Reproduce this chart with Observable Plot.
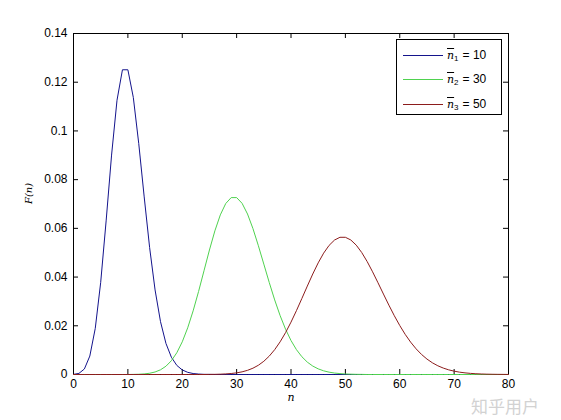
<!DOCTYPE html>
<html>
<head>
<meta charset="utf-8">
<script src="https://cdn.jsdelivr.net/npm/d3@7"></script>
<script src="https://cdn.jsdelivr.net/npm/@observablehq/plot@0.6"></script>
<style>
  html, body { margin: 0; padding: 0; background: #fff; }
  #wrap { position: relative; width: 561px; height: 420px; font-family: "Liberation Sans", Arial, sans-serif; }
  #legend { position: absolute; left: 396px; top: 39px; width: 106px; height: 76px; border: 1px solid #000; background: #fff; box-sizing: border-box; }
  .row { position: absolute; left: 0; height: 16px; display: flex; align-items: center; font-size: 12px; color: #000; }
  .sw { width: 40px; height: 0; border-top: 1px solid; margin-left: 6px; margin-right: 4px; }
  .nb { font-family: "DejaVu Serif", serif; font-style: italic; text-decoration: overline; font-size: 11px; }
  .sub { font-size: 8px; position: relative; top: 3px; margin-right: 4px; }
  #wm { position: absolute; left: 471px; top: 393px; font-family: "Noto Sans CJK SC", sans-serif; font-size: 17px; color: #d2d2d2; letter-spacing: 0px; }
</style>
</head>
<body>
<div id="wrap"></div>
<script>
const n = d3.range(0, 81);
const p1 = [0.00005,0.00045,0.00227,0.00757,0.01892,0.03783,0.06306,0.09008,0.11260,0.12511,
  0.12511,0.11374,0.09478,0.07291,0.05208,0.03472,0.02170,0.01276,0.00709,0.00373,
  0.00187,0.00089,0.00040,0.00018,0.00007,0.00003,0,0,0,0,
  0,0,0,0,0,0,0,0,0,0, 0,0,0,0,0,0,0,0,0,0, 0,0,0,0,0,0,0,0,0,0,
  0,0,0,0,0,0,0,0,0,0, 0,0,0,0,0,0,0,0,0,0, 0];
const p2 = [0,0,0,0,0,0,0,0,0,0,
  0,0.00004,0.00010,0.00024,0.00051,0.00103,0.00193,0.00340,0.00566,0.00894,
  0.01341,0.01916,0.02613,0.03408,0.04260,0.05111,0.05898,0.06553,0.07021,0.07263,
  0.07263,0.07029,0.06590,0.05991,0.05286,0.04531,0.03776,0.03061,0.02417,0.01859,
  0.01394,0.01020,0.00729,0.00508,0.00347,0.00231,0.00151,0.00096,0.00060,0.00037,
  0.00022,0.00013,0.00007,0.00004,0,0,0,0,0,0,
  0,0,0,0,0,0,0,0,0,0, 0,0,0,0,0,0,0,0,0,0, 0];
const p3 = [0,0,0,0,0,0,0,0,0,0, 0,0,0,0,0,0,0,0,0,0,
  0,0,0,0,0,0.00004,0.00007,0.00013,0.00024,0.00041,
  0.00068,0.00109,0.00171,0.00259,0.00380,0.00543,0.00755,0.01020,0.01342,0.01720,
  0.02150,0.02622,0.03122,0.03630,0.04125,0.04583,0.04982,0.05300,0.05520,0.05633,
  0.05633,0.05523,0.05310,0.05010,0.04639,0.04217,0.03765,0.03303,0.02847,0.02413,
  0.02011,0.01648,0.01329,0.01055,0.00824,0.00634,0.00480,0.00358,0.00264,0.00191,
  0.00137,0.00096,0.00067,0.00046,0.00031,0.00021,0.00014,0.00009,0.00006,0.00004,
  0.00002];
const xTicks = [0,10,20,30,40,50,60,70,80];
const yTicks = [0,0.02,0.04,0.06,0.08,0.1,0.12,0.14];
const yTickLabels = ["0","0.02","0.04","0.06","0.08","0.1","0.12","0.14"];
const seriesLabels = ["1", "2", "3"];
const seriesValues = ["10", "30", "50"];
const colors = ["#14148c", "#4fd24f", "#8c1c1c"];

const W = 561, H = 420, mL = 73, mR = 53, mT = 33, mB = 46;
const pw = W - mL - mR, ph = H - mT - mB, tk = 5;
const rows = [p1, p2, p3].map(p => n.map((x, i) => ({n: x, p: p[i]})));

const chart = Plot.plot({
  width: W, height: H,
  marginLeft: mL, marginRight: mR, marginTop: mT, marginBottom: mB,
  style: {fontFamily: "'Liberation Sans', Arial, sans-serif", fontSize: "12px", color: "#000", background: "#fff"},
  x: {domain: [0, 80]},
  y: {domain: [0, 0.14]},
  marks: [
    Plot.frame({stroke: "#000", strokeWidth: 1}),
    Plot.tickY(yTicks, {y: d => d, insetRight: pw - tk, stroke: "#000"}),
    Plot.tickY(yTicks, {y: d => d, insetLeft: pw - tk, stroke: "#000"}),
    Plot.tickX(xTicks, {x: d => d, insetTop: ph - tk, stroke: "#000"}),
    Plot.tickX(xTicks, {x: d => d, insetBottom: ph - tk, stroke: "#000"}),
    Plot.axisY({ticks: yTicks, tickSize: 0, tickPadding: 6, tickFormat: (d, i) => yTickLabels[i], label: null, fontSize: 12}),
    Plot.axisX({ticks: xTicks, tickSize: 0, tickPadding: 5, label: null, fontSize: 12}),
    ...rows.map((r, i) => Plot.line(r, {x: "n", y: "p", stroke: colors[i], strokeWidth: 1})),
    Plot.text(["F(n)"], {frameAnchor: "left", dx: -45, rotate: -90, fontStyle: "italic", fontFamily: "'DejaVu Serif', serif", fontSize: 10, fill: "#000"}),
    Plot.text(["n"], {frameAnchor: "bottom", dy: 26, fontStyle: "italic", fontFamily: "'DejaVu Serif', serif", fontSize: 11, fill: "#000"})
  ]
});
const wrap = document.getElementById("wrap");
wrap.appendChild(chart);

const leg = document.createElement("div");
leg.id = "legend";
const tops = [7, 31, 56];
seriesLabels.forEach((s, i) => {
  const r = document.createElement("div");
  r.className = "row";
  r.style.top = tops[i] + "px";
  r.innerHTML = `<span class="sw" style="border-color:${colors[i]}"></span><span class="nb">n</span><span class="sub">${s}</span><span>= ${seriesValues[i]}</span>`;
  leg.appendChild(r);
});
wrap.appendChild(leg);

const wm = document.createElement("div");
wm.id = "wm";
wm.textContent = "知乎用户";
wrap.appendChild(wm);
</script>
</body>
</html>
